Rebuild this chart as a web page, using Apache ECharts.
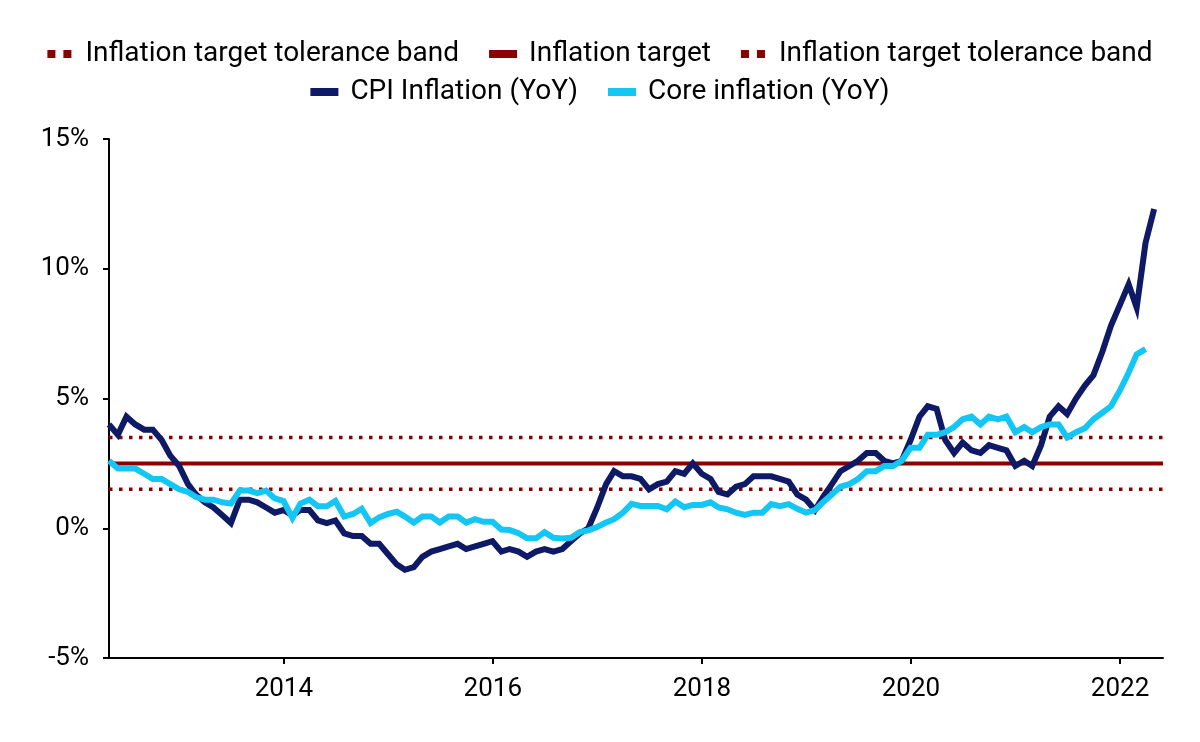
<!DOCTYPE html>
<html>
<head>
<meta charset="utf-8">
<script src="https://cdn.jsdelivr.net/npm/echarts@6/dist/echarts.min.js"></script>
<style>
  html, body { margin: 0; padding: 0; background: #fff; }
  #chart { width: 1200px; height: 742px; }
</style>
</head>
<body>
<div id="chart"></div>
<script>
// Months (Apr 2012 - May 2022)
const months = [
  '2012-04','2012-05','2012-06','2012-07','2012-08','2012-09','2012-10','2012-11','2012-12',
  '2013-01','2013-02','2013-03','2013-04','2013-05','2013-06','2013-07','2013-08','2013-09','2013-10','2013-11','2013-12',
  '2014-01','2014-02','2014-03','2014-04','2014-05','2014-06','2014-07','2014-08','2014-09','2014-10','2014-11','2014-12',
  '2015-01','2015-02','2015-03','2015-04','2015-05','2015-06','2015-07','2015-08','2015-09','2015-10','2015-11','2015-12',
  '2016-01','2016-02','2016-03','2016-04','2016-05','2016-06','2016-07','2016-08','2016-09','2016-10','2016-11','2016-12',
  '2017-01','2017-02','2017-03','2017-04','2017-05','2017-06','2017-07','2017-08','2017-09','2017-10','2017-11','2017-12',
  '2018-01','2018-02','2018-03','2018-04','2018-05','2018-06','2018-07','2018-08','2018-09','2018-10','2018-11','2018-12',
  '2019-01','2019-02','2019-03','2019-04','2019-05','2019-06','2019-07','2019-08','2019-09','2019-10','2019-11','2019-12',
  '2020-01','2020-02','2020-03','2020-04','2020-05','2020-06','2020-07','2020-08','2020-09','2020-10','2020-11','2020-12',
  '2021-01','2021-02','2021-03','2021-04','2021-05','2021-06','2021-07','2021-08','2021-09','2021-10','2021-11','2021-12',
  '2022-01','2022-02','2022-03','2022-04','2022-05'
];

// CPI inflation YoY (%), Apr 2012 - Apr 2022
const cpiInflation = [
  4.0,3.6,4.3,4.0,3.8,3.8,3.4,2.8,2.4,
  1.7,1.3,1.0,0.8,0.5,0.2,1.1,1.1,1.0,0.8,0.6,0.7,
  0.5,0.7,0.7,0.3,0.2,0.3,-0.2,-0.3,-0.3,-0.6,-0.6,-1.0,
  -1.4,-1.6,-1.5,-1.1,-0.9,-0.8,-0.7,-0.6,-0.8,-0.7,-0.6,-0.5,
  -0.9,-0.8,-0.9,-1.1,-0.9,-0.8,-0.9,-0.8,-0.5,-0.2,0.0,0.8,
  1.7,2.2,2.0,2.0,1.9,1.5,1.7,1.8,2.2,2.1,2.5,2.1,
  1.9,1.4,1.3,1.6,1.7,2.0,2.0,2.0,1.9,1.8,1.3,1.1,
  0.7,1.2,1.7,2.2,2.4,2.6,2.9,2.9,2.6,2.5,2.6,3.4,
  4.3,4.7,4.6,3.4,2.9,3.3,3.0,2.9,3.2,3.1,3.0,2.4,
  2.6,2.4,3.2,4.3,4.7,4.4,5.0,5.5,5.9,6.8,7.8,8.6,
  9.4,8.5,11.0,12.3
];

// Core inflation YoY (%), Apr 2012 - Mar 2022
const coreInflation = [
  2.6,2.3,2.3,2.3,2.1,1.9,1.9,1.7,1.5,
  1.4,1.2,1.1,1.1,1.0,0.95,1.45,1.45,1.35,1.45,1.15,1.05,
  0.4,0.95,1.1,0.85,0.85,1.05,0.45,0.55,0.75,0.2,0.42,0.55,
  0.64,0.45,0.22,0.45,0.45,0.22,0.45,0.45,0.22,0.35,0.25,0.25,
  -0.05,-0.07,-0.19,-0.39,-0.39,-0.15,-0.37,-0.39,-0.37,-0.15,-0.08,0.05,
  0.22,0.35,0.6,0.94,0.86,0.86,0.86,0.73,1.03,0.81,0.9,0.9,
  1.0,0.8,0.73,0.6,0.51,0.6,0.6,0.93,0.85,0.93,0.75,0.6,
  0.7,1.0,1.3,1.6,1.7,1.9,2.2,2.2,2.4,2.4,2.6,3.1,
  3.1,3.6,3.6,3.7,3.9,4.2,4.3,4.0,4.3,4.2,4.3,3.7,
  3.9,3.7,3.9,4.0,4.0,3.5,3.7,3.85,4.2,4.45,4.7,5.3,
  6.0,6.7,6.9
];

// Target and tolerance band (%)
const inflationTarget = 2.5;
const toleranceUpper = 3.5;
const toleranceLower = 1.5;

// Axis tick labels
const yearTicks = ['2014','2016','2018','2020','2022'];
const yMin = -5, yMax = 15, yStep = 5;

const monthEnd = s => { const [y, m] = s.split('-').map(Number); return Date.UTC(y, m, 0); };
const xs = months.map(monthEnd);
const pairs = vals => vals.map((v, i) => [xs[i], v]);
const constLine = v => xs.map(x => [x, v]);
const tickValues = yearTicks.map(y => Date.UTC(Number(y), 0, 1));

const BAND = 'Inflation target tolerance band';
const RED = '#8B0000', NAVY = '#0E1A66', CYAN = '#13C6F4';
const FONT = 'Roboto';
const DOTS = 'path://M0,0h1v1h-1z M2,0h1v1h-1z';

const legendText = { fontSize: 28, color: '#000', fontFamily: FONT, padding: [0, 0, 0, 7] };

const chart = echarts.init(document.getElementById('chart'));
chart.setOption({
  animation: false,
  backgroundColor: '#fff',
  textStyle: { fontFamily: FONT },
  grid: { left: 109, right: 37, top: 139, bottom: 84, containLabel: false },
  legend: [
    {
      top: 35, left: 'center', itemGap: 30, itemWidth: 28, itemHeight: 8,
      textStyle: legendText,
      itemStyle: { borderWidth: 0 },
      selectedMode: false,
      formatter: n => n.indexOf(BAND) === 0 ? BAND : n,
      data: [
        { name: BAND + ' (upper)', icon: DOTS },
        { name: 'Inflation target', icon: 'rect' },
        { name: BAND + ' (lower)', icon: DOTS }
      ]
    },
    {
      top: 73, left: 'center', itemGap: 30, itemWidth: 28, itemHeight: 8,
      textStyle: legendText,
      itemStyle: { borderWidth: 0 },
      selectedMode: false,
      data: [
        { name: 'CPI Inflation (YoY)', icon: 'rect' },
        { name: 'Core inflation (YoY)', icon: 'rect' }
      ]
    }
  ],
  xAxis: {
    type: 'value',
    min: xs[0], max: xs[xs.length - 1],
    axisLine: { show: true, onZero: false, lineStyle: { color: '#000', width: 2 } },
    axisTick: { show: true, length: 6, inside: false, customValues: tickValues, lineStyle: { color: '#000', width: 2 } },
    axisLabel: {
      customValues: tickValues, fontSize: 26, color: '#000', margin: 18, fontFamily: FONT,
      formatter: v => String(new Date(v).getUTCFullYear())
    },
    splitLine: { show: false }
  },
  yAxis: {
    type: 'value', min: yMin, max: yMax, interval: yStep,
    axisLine: { show: true, lineStyle: { color: '#000', width: 2 } },
    axisTick: { show: true, length: 6, inside: false, lineStyle: { color: '#000', width: 2 } },
    axisLabel: { formatter: '{value}%', fontSize: 26, color: '#000', margin: 20, fontFamily: FONT },
    splitLine: { show: false }
  },
  series: [
    { name: BAND + ' (upper)', type: 'line', symbol: 'none', data: constLine(toleranceUpper),
      itemStyle: { color: RED, borderWidth: 0 },
      lineStyle: { color: RED, width: 3.5, type: [3.5, 6.5], cap: 'butt' } },
    { name: 'Inflation target', type: 'line', symbol: 'none', data: constLine(inflationTarget),
      itemStyle: { color: RED, borderWidth: 0 },
      lineStyle: { color: RED, width: 4 } },
    { name: BAND + ' (lower)', type: 'line', symbol: 'none', data: constLine(toleranceLower),
      itemStyle: { color: RED, borderWidth: 0 },
      lineStyle: { color: RED, width: 3.5, type: [3.5, 6.5], cap: 'butt' } },
    { name: 'CPI Inflation (YoY)', type: 'line', symbol: 'none', data: pairs(cpiInflation),
      itemStyle: { color: NAVY, borderWidth: 0 },
      lineStyle: { color: NAVY, width: 6, join: 'miter' } },
    { name: 'Core inflation (YoY)', type: 'line', symbol: 'none', data: pairs(coreInflation),
      itemStyle: { color: CYAN, borderWidth: 0 },
      lineStyle: { color: CYAN, width: 6, join: 'miter' } }
  ]
});
</script>
</body>
</html>
